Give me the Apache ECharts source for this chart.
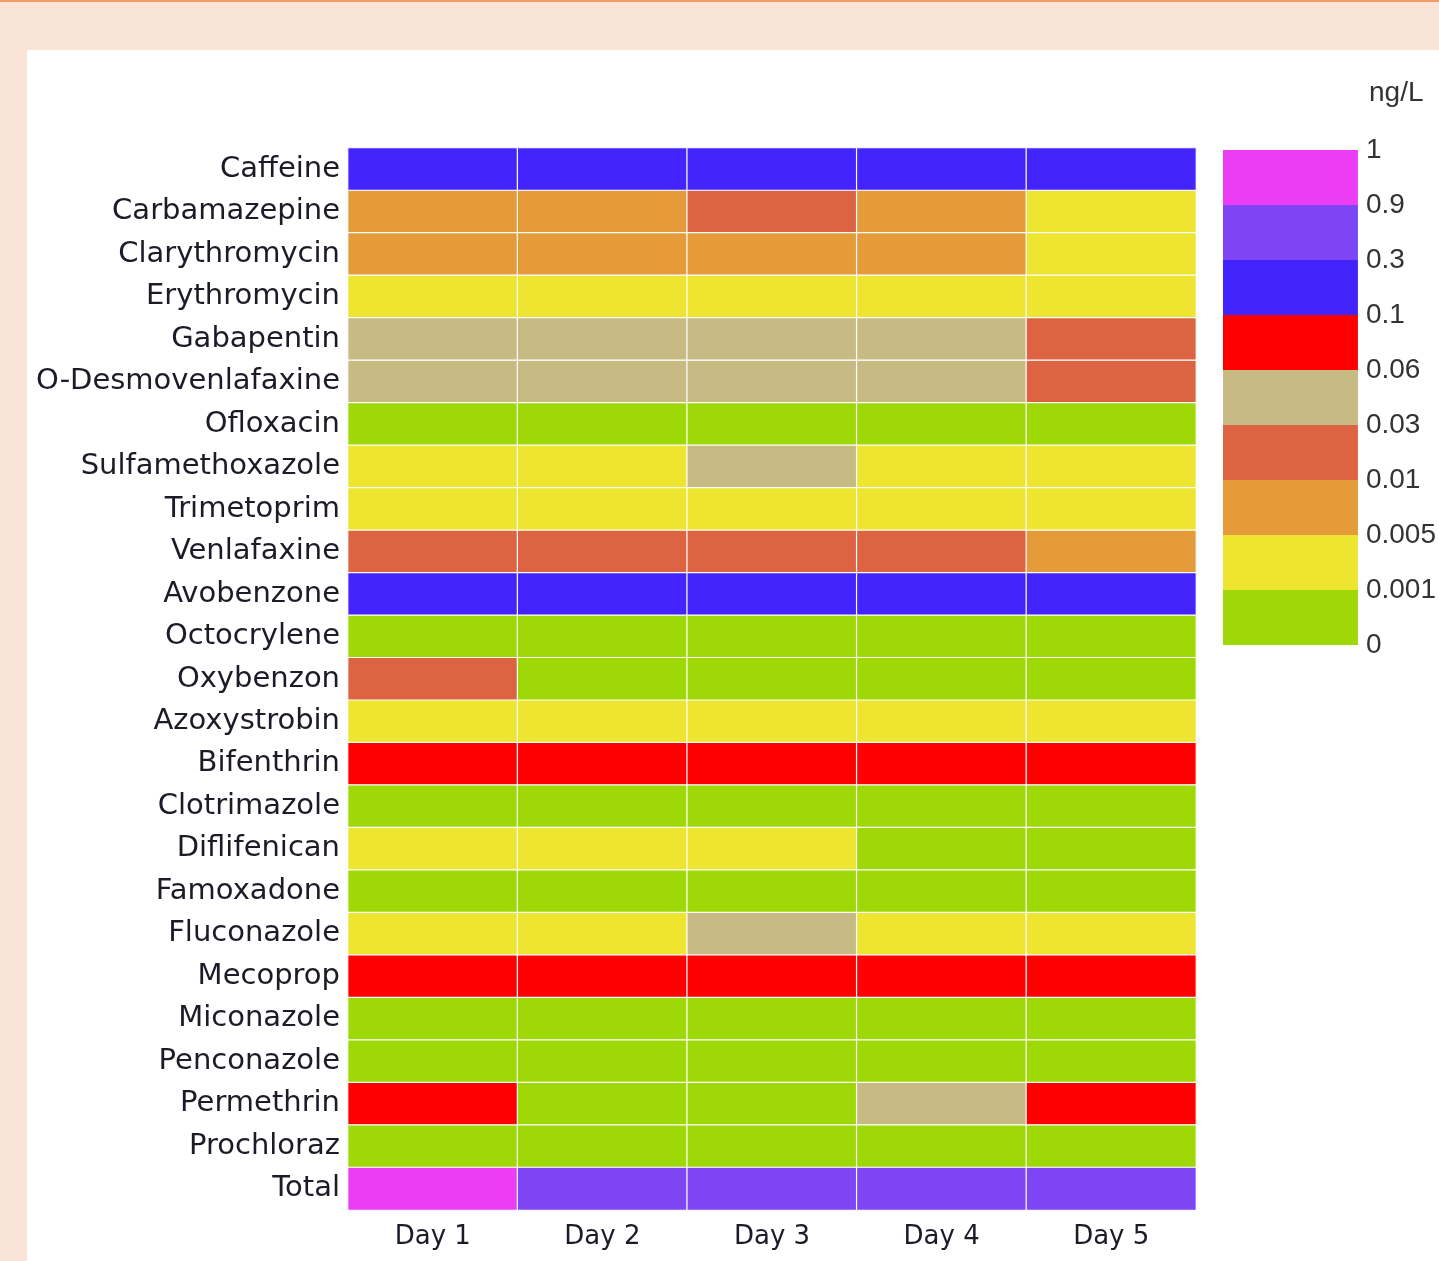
<!DOCTYPE html>
<html>
<head>
<meta charset="utf-8">
<script src="https://cdn.jsdelivr.net/npm/echarts@6/dist/echarts.min.js"></script>
<style>
  html, body { margin: 0; padding: 0; background: #fae4d8; }
  #draw { width: 1439px; height: 1261px; }
</style>
</head>
<body>
<div id="draw"></div>
<script>
  // compounds, top to bottom
  var compounds = ['Caffeine', 'Carbamazepine', 'Clarythromycin', 'Erythromycin', 'Gabapentin',
    'O-Desmovenlafaxine', 'Ofloxacin', 'Sulfamethoxazole', 'Trimetoprim', 'Venlafaxine',
    'Avobenzone', 'Octocrylene', 'Oxybenzon', 'Azoxystrobin', 'Bifenthrin', 'Clotrimazole',
    'Diflifenican', 'Famoxadone', 'Fluconazole', 'Mecoprop', 'Miconazole', 'Penconazole',
    'Permethrin', 'Prochloraz', 'Total'];
  var days = ['Day 1', 'Day 2', 'Day 3', 'Day 4', 'Day 5'];

  // concentrations (ng/L), estimated from colour class
  var day1 = [0.2, 0.007, 0.007, 0.003, 0.045, 0.045, 0.0005, 0.003, 0.003, 0.02, 0.2, 0.0005, 0.02,
    0.003, 0.08, 0.0005, 0.003, 0.0005, 0.003, 0.08, 0.0005, 0.0005, 0.08, 0.0005, 0.95];
  var day2 = [0.2, 0.007, 0.007, 0.003, 0.045, 0.045, 0.0005, 0.003, 0.003, 0.02, 0.2, 0.0005, 0.0005,
    0.003, 0.08, 0.0005, 0.003, 0.0005, 0.003, 0.08, 0.0005, 0.0005, 0.0005, 0.0005, 0.6];
  var day3 = [0.2, 0.02, 0.007, 0.003, 0.045, 0.045, 0.0005, 0.045, 0.003, 0.02, 0.2, 0.0005, 0.0005,
    0.003, 0.08, 0.0005, 0.003, 0.0005, 0.045, 0.08, 0.0005, 0.0005, 0.0005, 0.0005, 0.6];
  var day4 = [0.2, 0.007, 0.007, 0.003, 0.045, 0.045, 0.0005, 0.003, 0.003, 0.02, 0.2, 0.0005, 0.0005,
    0.003, 0.08, 0.0005, 0.0005, 0.0005, 0.003, 0.08, 0.0005, 0.0005, 0.045, 0.0005, 0.6];
  var day5 = [0.2, 0.003, 0.003, 0.003, 0.02, 0.02, 0.0005, 0.003, 0.003, 0.007, 0.2, 0.0005, 0.0005,
    0.003, 0.08, 0.0005, 0.0005, 0.0005, 0.003, 0.08, 0.0005, 0.0005, 0.08, 0.0005, 0.6];

  // colour classes, low to high
  var breaks = [0, 0.001, 0.005, 0.01, 0.03, 0.06, 0.1, 0.3, 0.9, 1];
  var breakLabels = ['0', '0.001', '0.005', '0.01', '0.03', '0.06', '0.1', '0.3', '0.9', '1'];
  var colors = ['#9ed807', '#ede530', '#e59b3a', '#dc6443', '#c7ba83', '#fe0000', '#4324fc', '#7e45f5', '#ec3cf4'];

  var cols = [day1, day2, day3, day4, day5];
  var cells = [];
  cols.forEach(function (col, i) {
    col.forEach(function (v, j) { cells.push([i, j, v]); });
  });

  var pieces = [];
  for (var k = 0; k < colors.length; k++) {
    pieces.push({ gte: breaks[k], lt: breaks[k + 1], color: colors[k] });
  }

  // legend: one stacked bar block per class
  var legendSeries = colors.map(function (c) {
    return {
      type: 'bar',
      xAxisIndex: 1,
      yAxisIndex: 1,
      stack: 'leg',
      barWidth: '100%',
      silent: true,
      data: [1],
      itemStyle: { color: c }
    };
  });

  var myChart = echarts.init(document.getElementById('draw'));
  myChart.setOption({
    animation: false,
    backgroundColor: '#fae4d8',
    graphic: [
      { type: 'rect', shape: { x: 0, y: 0, width: 1439, height: 2 }, style: { fill: '#f39b6a' } },
      { type: 'rect', z: -10, shape: { x: 27, y: 50, width: 1412, height: 1211 }, style: { fill: '#fff' } }
    ],
    title: {
      text: 'ng/L',
      left: 1364,
      top: 74,
      textStyle: { fontFamily: 'Liberation Sans', fontSize: 28, fontWeight: 'normal', color: '#333' }
    },
    grid: [
      { left: 348, top: 148, width: 848, height: 1062 },
      { left: 1223, top: 150, width: 135, height: 495 }
    ],
    xAxis: [{
      type: 'category',
      data: days,
      gridIndex: 0,
      axisLine: { show: false },
      axisTick: { show: false },
      splitLine: { show: false },
      axisLabel: { color: '#1c1c28', fontFamily: 'DejaVu Sans', fontSize: 26, margin: 14 }
    }, {
      type: 'category',
      data: ['ng/L'],
      gridIndex: 1,
      show: false
    }],
    yAxis: [{
      type: 'category',
      data: compounds,
      inverse: true,
      gridIndex: 0,
      axisLine: { show: false },
      axisTick: { show: false },
      splitLine: { show: false },
      axisLabel: { color: '#1c1c28', fontFamily: 'DejaVu Sans', fontSize: 29, margin: 8, padding: [4, 0, 0, 0] }
    }, {
      type: 'value',
      gridIndex: 1,
      position: 'right',
      min: 0,
      max: 9,
      interval: 1,
      axisLine: { show: false },
      axisTick: { show: false },
      splitLine: { show: false },
      axisLabel: {
        color: '#333',
        fontFamily: 'Liberation Sans',
        fontSize: 28,
        margin: 8,
        formatter: function (v) { return breakLabels[Math.round(v)]; }
      }
    }],
    visualMap: {
      type: 'piecewise',
      show: false,
      seriesIndex: 0,
      dimension: 2,
      pieces: pieces
    },
    series: [{
      type: 'heatmap',
      data: cells,
      xAxisIndex: 0,
      yAxisIndex: 0,
      itemStyle: { borderColor: '#fff', borderWidth: 1.2 },
      emphasis: { disabled: true }
    }].concat(legendSeries)
  });
</script>
</body>
</html>
